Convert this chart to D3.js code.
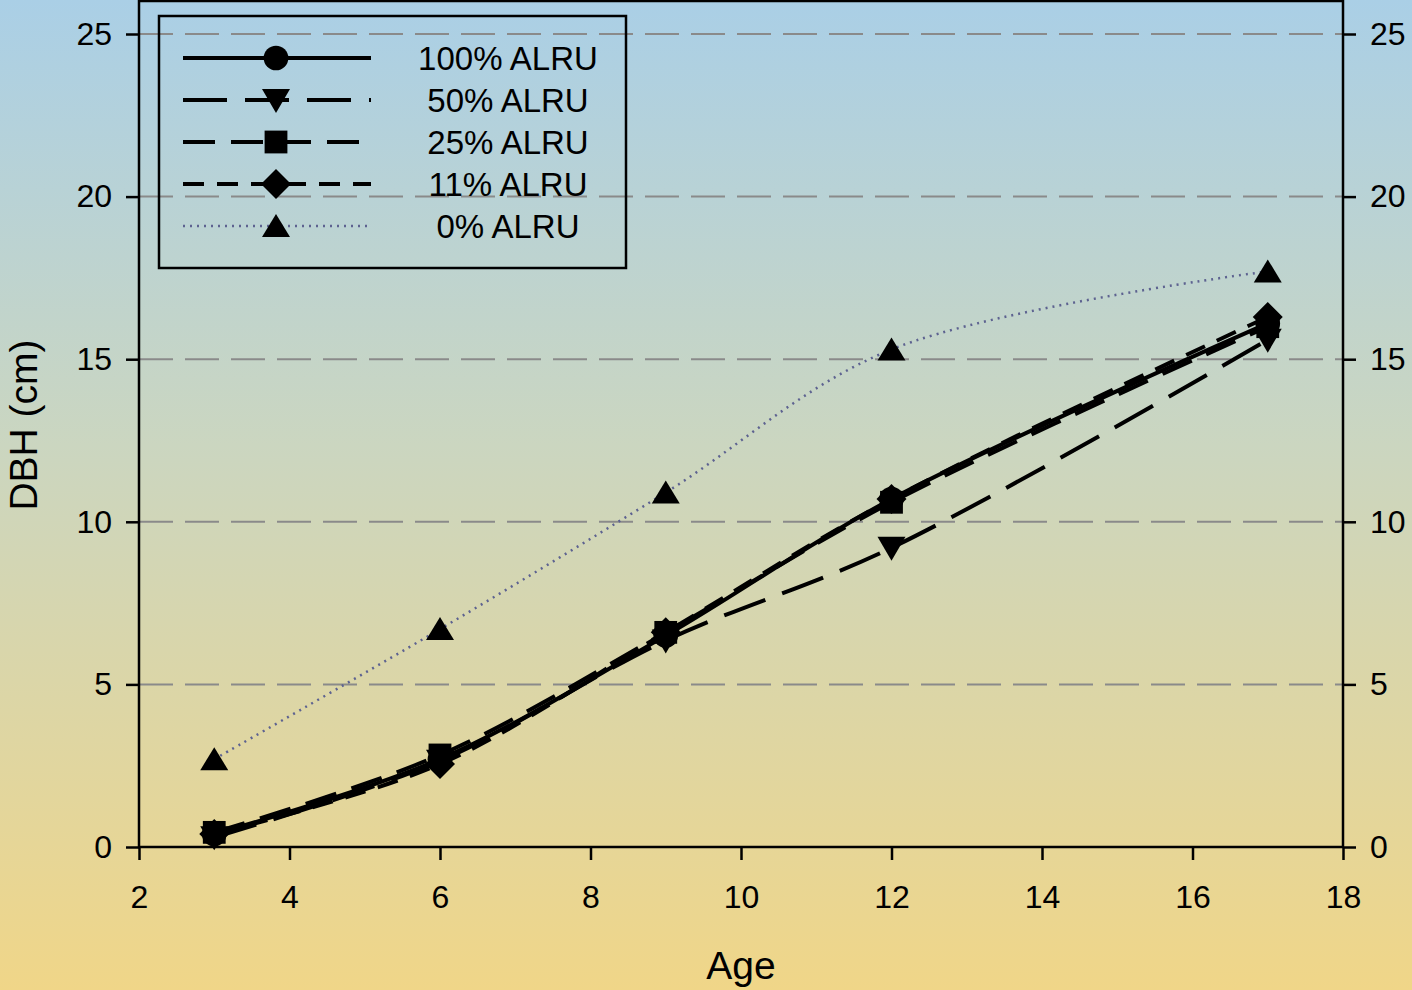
<!DOCTYPE html>
<html><head><meta charset="utf-8">
<script src="https://cdn.jsdelivr.net/npm/d3@7"></script>
<style>html,body{margin:0;padding:0;overflow:hidden;}svg{display:block;font-family:"Liberation Sans",Arial,sans-serif;}</style>
</head><body>
<script>
const ages = [3, 6, 9, 12, 17];
const alru100 = [0.4, 2.7, 6.5, 10.7, 16.1];
const alru50 = [0.3, 2.65, 6.35, 9.2, 15.6];
const alru25 = [0.45, 2.83, 6.6, 10.6, 16.0];
const alru11 = [0.4, 2.55, 6.6, 10.7, 16.3];
const alru0 = [2.7, 6.7, 10.9, 15.3, 17.7];
const seriesNames = ["100% ALRU", "50% ALRU", "25% ALRU", "11% ALRU", "0% ALRU"];
const xTicks = [2, 4, 6, 8, 10, 12, 14, 16, 18];
const yTicks = [0, 5, 10, 15, 20, 25];

const W = 1412, H = 990;
const m = {l: 139, r: 1343, t: 1, b: 847};
const svg = d3.select("body").append("svg").attr("width", W).attr("height", H);
const defs = svg.append("defs");
const g = defs.append("linearGradient").attr("id", "bg").attr("x1", 0).attr("x2", 0).attr("y1", 0).attr("y2", 1);
g.append("stop").attr("offset", "0%").attr("stop-color", "#aacfe6");
g.append("stop").attr("offset", "45%").attr("stop-color", "#cbd6c0");
g.append("stop").attr("offset", "100%").attr("stop-color", "#f0d688");
svg.append("rect").attr("width", W).attr("height", H).attr("fill", "url(#bg)");

const x = d3.scaleLinear().domain([2, 18]).range([m.l, m.r]);
const y = d3.scaleLinear().domain([0, 25]).range([m.b, m.b - 25 * 32.52]);

// gridlines
svg.append("g").selectAll("line").data(yTicks.filter(d => d > 0)).join("line")
  .attr("x1", m.l).attr("x2", m.r).attr("y1", d => y(d)).attr("y2", d => y(d))
  .attr("stroke", "#8a8a8a").attr("stroke-width", 2).attr("stroke-dasharray", "34,12");

// frame
svg.append("rect").attr("x", m.l).attr("y", m.t).attr("width", m.r - m.l).attr("height", m.b - m.t)
  .attr("fill", "none").attr("stroke", "#000").attr("stroke-width", 2.5);

const tickFont = 32;
const xAxis = svg.append("g").attr("transform", `translate(0,${m.b})`)
  .call(d3.axisBottom(x).tickValues(xTicks).tickSize(13).tickPadding(25).tickFormat(d3.format("d")));
const yAxisL = svg.append("g").attr("transform", `translate(${m.l},0)`)
  .call(d3.axisLeft(y).tickValues(yTicks).tickSize(13).tickPadding(14).tickFormat(d3.format("d")));
const yAxisR = svg.append("g").attr("transform", `translate(${m.r},0)`)
  .call(d3.axisRight(y).tickValues(yTicks).tickSize(13).tickPadding(14).tickFormat(d3.format("d")));
[xAxis, yAxisL, yAxisR].forEach(a => {
  a.select(".domain").remove();
  a.selectAll(".tick line").attr("stroke", "#000").attr("stroke-width", 2.5);
  a.selectAll(".tick text").attr("font-size", tickFont).attr("fill", "#000").attr("font-family", '"Liberation Sans",Arial,sans-serif');
});

svg.append("text").attr("x", 741).attr("y", 979).attr("text-anchor", "middle")
  .attr("font-size", 39).text("Age");
svg.append("text").attr("transform", "translate(37,425) rotate(-90)").attr("text-anchor", "middle")
  .attr("font-size", 39).text("DBH (cm)");

const series = [
  {name: seriesNames[0], vals: alru100, dash: null, sym: d3.symbolCircle, size: 480, color: "#000", width: 4},
  {name: seriesNames[1], vals: alru50, dash: "44,18", sym: "tridown", size: 0, color: "#000", width: 4},
  {name: seriesNames[2], vals: alru25, dash: "32,16", sym: d3.symbolSquare, size: 520, color: "#000", width: 4},
  {name: seriesNames[3], vals: alru11, dash: "21,13", sym: d3.symbolDiamond, size: 0, color: "#000", width: 4},
  {name: seriesNames[4], vals: alru0, dash: "2,5", sym: "triup", size: 0, color: "#5d6290", width: 2.5}
];

function markerPath(sym, size) {
  if (sym === "tridown") return "M-14,-11L14,-11L0,13Z";
  if (sym === "triup") return "M0,-12L14,11L-14,11Z";
  if (sym === d3.symbolDiamond) return "M0,-15L15,0L0,15L-15,0Z";
  return d3.symbol().type(sym).size(size)();
}

const line = d3.line().x((d, i) => x(ages[i])).y(d => y(d)).curve(d3.curveCatmullRom.alpha(0.5));
const plot = svg.append("g");
series.forEach(s => {
  plot.append("path").attr("d", line(s.vals)).attr("fill", "none").attr("stroke", s.color)
    .attr("stroke-width", s.width).attr("stroke-dasharray", s.dash);
});
series.forEach(s => {
  plot.append("g").selectAll("path").data(s.vals).join("path")
    .attr("transform", (d, i) => `translate(${x(ages[i])},${y(d)})`)
    .attr("d", markerPath(s.sym, s.size)).attr("fill", "#000");
});

// legend
const leg = svg.append("g");
leg.append("rect").attr("x", 159).attr("y", 16).attr("width", 467).attr("height", 252)
  .attr("fill", "none").attr("stroke", "#000").attr("stroke-width", 2.5);
series.forEach((s, i) => {
  const ly = 58 + i * 42;
  leg.append("line").attr("x1", 183).attr("x2", 371).attr("y1", ly).attr("y2", ly)
    .attr("stroke", s.color).attr("stroke-width", s.width).attr("stroke-dasharray", s.dash);
  leg.append("path").attr("transform", `translate(276,${ly})`).attr("d", markerPath(s.sym, s.size)).attr("fill", "#000");
  leg.append("text").attr("x", 508).attr("y", ly + 12).attr("text-anchor", "middle")
    .attr("font-size", 33).text(s.name);
});
</script>
</body></html>
